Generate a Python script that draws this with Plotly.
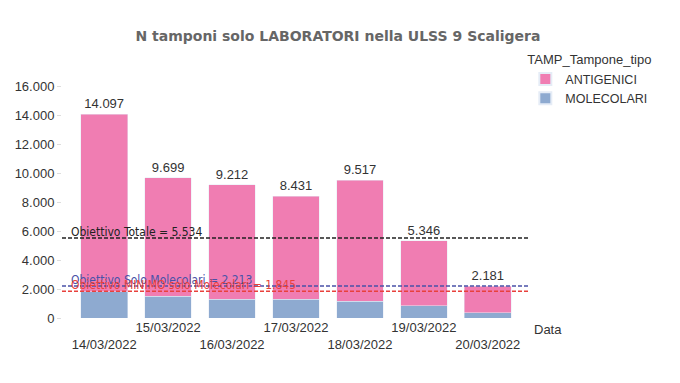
import plotly.graph_objects as go

date_labels = ["14/03/2022", "15/03/2022", "16/03/2022", "17/03/2022",
               "18/03/2022", "19/03/2022", "20/03/2022"]
antigenici = [12297, 8199, 7912, 7131, 8347, 4516, 1831]
molecolari = [1800, 1500, 1300, 1300, 1170, 830, 350]
totali = [a + m for a, m in zip(antigenici, molecolari)]

target_names = ["Obiettivo Totale", "Obiettivo Solo Molecolari", "Obiettivo MINIMO solo Molecolari"]
target_values = [5534, 2213, 1845]
target_colors = ["#222222", "#4a52a8", "#e8413c"]

x = list(range(len(date_labels)))

def fmt(v):
    return f"{v:,}".replace(",", ".")

fig = go.Figure()
fig.add_trace(go.Bar(x=x, y=molecolari, name="MOLECOLARI", marker_color="#8eaad0",
                     width=0.73, legendrank=2))
fig.add_trace(go.Bar(x=x, y=antigenici, name="ANTIGENICI", marker_color="#f07db2",
                     width=0.73, legendrank=1,
                     text=[fmt(t) for t in totali], textposition="outside",
                     textfont=dict(family="Liberation Sans, Arial", size=13, color="#333333"),
                     cliponaxis=False))

for name, val, col in zip(target_names, target_values, target_colors):
    fig.add_shape(type="line", xref="paper", x0=0, x1=1, yref="y", y0=val, y1=val,
                  line=dict(color=col, width=1.5, dash="4px,2px"))
    fig.add_annotation(x=-0.55, y=val, xref="x", yref="y", xanchor="left", yanchor="bottom",
                       text=f"{name} = {fmt(val)}", showarrow=False, yshift=-3,
                       font=dict(family="DejaVu Sans Condensed, Liberation Sans", size=12, color=col))

ticktext = [("<br>" + d) if i % 2 == 0 else d for i, d in enumerate(date_labels)]

fig.add_annotation(x=1.005, y=-0.045, xref="paper", yref="paper", xanchor="left", yanchor="middle",
                   text="Data", showarrow=False,
                   font=dict(family="Liberation Sans, Arial", size=13, color="#333333"))

fig.update_layout(
    width=680, height=383,
    barmode="stack",
    separators=",.",
    paper_bgcolor="white", plot_bgcolor="white",
    margin=dict(l=62, r=150, t=72, b=65),
    title=dict(text="<b>N tamponi solo LABORATORI nella ULSS 9 Scaligera</b>",
               x=0.497, xanchor="center", y=0.905, yanchor="middle",
               font=dict(family="DejaVu Sans", size=14, color="#666666")),
    legend=dict(title=dict(text="TAMP_Tampone_tipo",
                           font=dict(family="Liberation Sans, Arial", size=13, color="#333333")),
                x=0.99, xanchor="left", y=1.1, yanchor="top",
                font=dict(family="Liberation Sans, Arial", size=12.5, color="#333333"),
                tracegroupgap=0, itemwidth=30,
                traceorder="normal", itemsizing="constant"),
    xaxis=dict(tickvals=x, ticktext=ticktext, range=[-0.66, 6.66], showgrid=False,
               showline=False, zeroline=False, ticks="", tickangle=0, automargin=False,
               tickfont=dict(family="Liberation Sans, Arial", size=13, color="#333333")),
    yaxis=dict(range=[0, 17000], tickvals=[0, 2000, 4000, 6000, 8000, 10000, 12000, 14000, 16000],
               tickformat=",d", showgrid=False, zeroline=False, showline=False, automargin=False,
               ticks="outside", ticklen=4, tickcolor="#dddddd",
               tickfont=dict(family="Liberation Sans, Arial", size=13, color="#333333")),
    showlegend=True,
)

fig.write_html("out.html", config={"displayModeBar": False},
               post_script="document.body.style.margin='0';")
